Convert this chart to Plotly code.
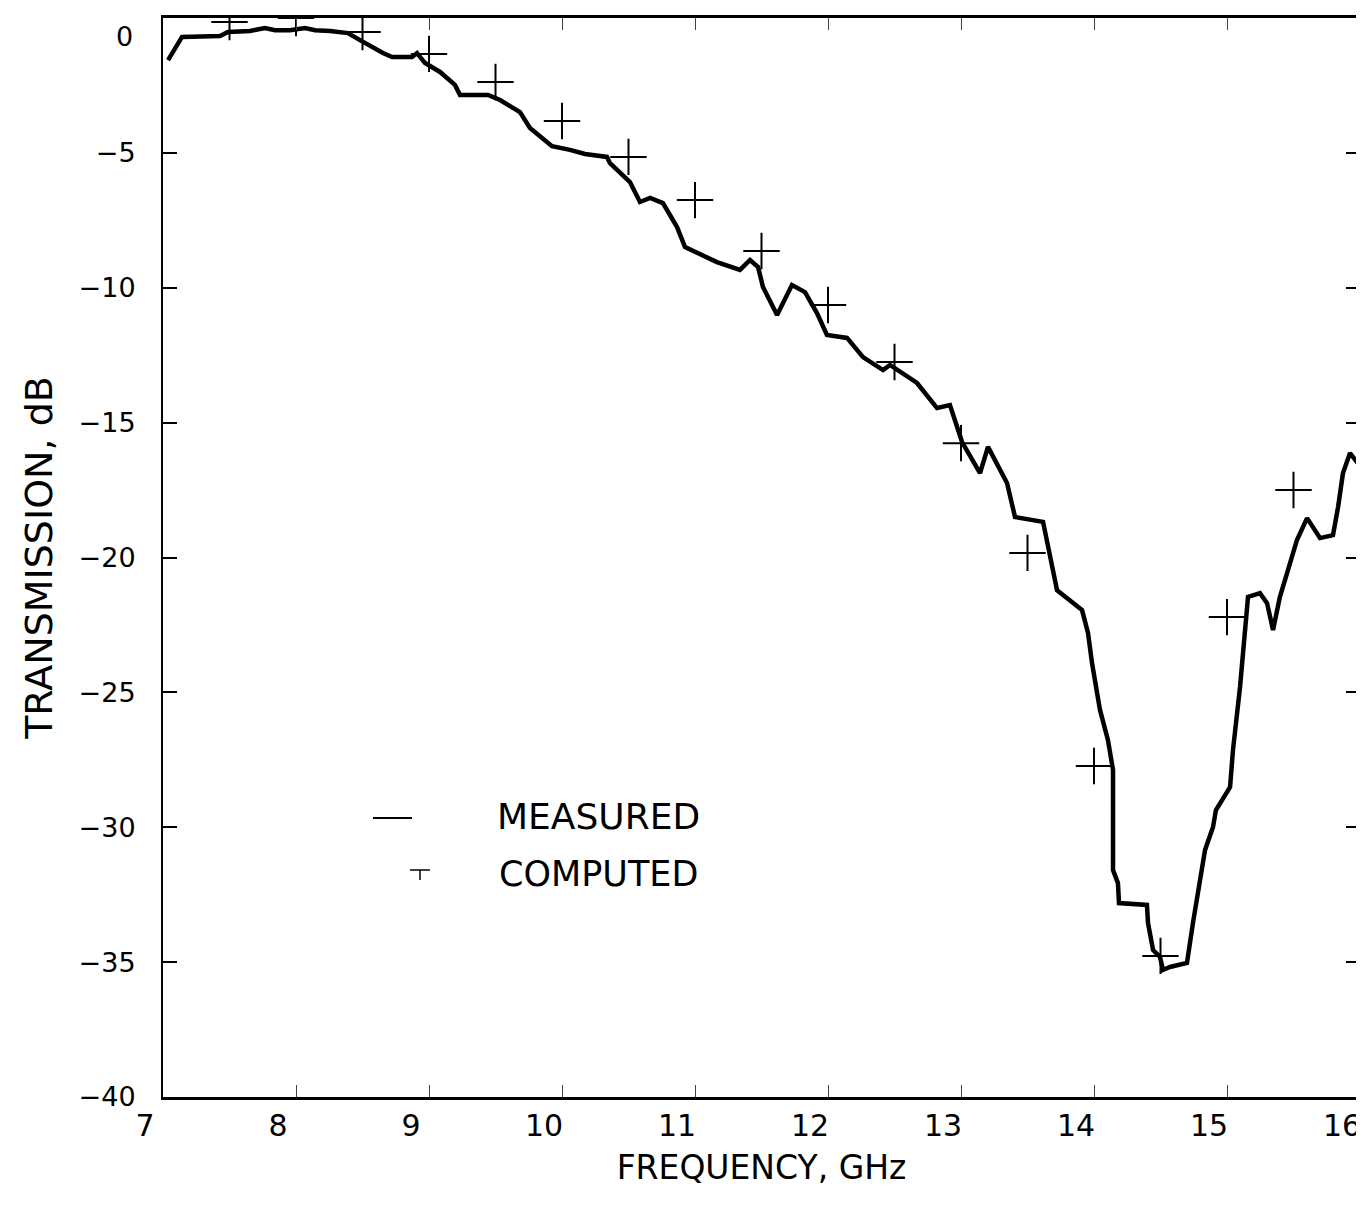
import plotly.graph_objects as go

# Measured transmission (GHz, dB)
meas_freq = [7.038, 7.143, 7.429, 7.489, 7.654, 7.767, 7.842, 7.955, 8.068, 8.143,
             8.256, 8.391, 8.481, 8.571, 8.654, 8.722, 8.872, 8.910, 8.970, 9.083,
             9.195, 9.233, 9.444, 9.534, 9.624, 9.684, 9.759, 9.872, 9.925, 10.060,
             10.173, 10.338, 10.361, 10.511, 10.586, 10.662, 10.759, 10.865, 10.925, 11.165,
             11.338, 11.414, 11.474, 11.511, 11.617, 11.729, 11.827, 11.917, 11.992, 12.143,
             12.263, 12.414, 12.466, 12.669, 12.820, 12.917, 12.970, 13.008, 13.143, 13.203,
             13.346, 13.406, 13.617, 13.654, 13.722, 13.910, 13.955, 13.985, 14.045, 14.105,
             14.143, 14.143, 14.180, 14.188, 14.398, 14.406, 14.444, 14.496, 14.519, 14.571,
             14.699, 14.744, 14.797, 14.835, 14.895, 14.917, 15.023, 15.045, 15.098, 15.135,
             15.158, 15.248, 15.301, 15.346, 15.398, 15.459, 15.526, 15.602, 15.699, 15.797,
             15.835, 15.872, 15.925, 16.000]
meas_db = [-1.56, -0.70, -0.67, -0.52, -0.48, -0.37, -0.45, -0.45, -0.37, -0.45,
           -0.48, -0.56, -0.82, -1.08, -1.30, -1.45, -1.45, -1.30, -1.67, -2.00,
           -2.48, -2.85, -2.85, -3.04, -3.30, -3.49, -4.08, -4.52, -4.75, -4.89,
           -5.04, -5.15, -5.38, -6.08, -6.82, -6.67, -6.86, -7.75, -8.49, -9.05,
           -9.34, -8.97, -9.23, -9.97, -11.01, -9.90, -10.16, -10.94, -11.75, -11.86,
           -12.57, -13.05, -12.86, -13.53, -14.46, -14.35, -15.16, -15.72, -16.87, -15.90,
           -17.24, -18.50, -18.68, -19.61, -21.21, -21.95, -22.80, -23.91, -25.65, -26.77,
           -27.88, -31.59, -32.07, -32.81, -32.88, -33.55, -34.55, -34.81, -35.29, -35.18,
           -35.03, -33.55, -32.07, -30.84, -29.99, -29.36, -28.51, -27.14, -24.80, -22.58,
           -21.46, -21.32, -21.69, -22.69, -21.46, -20.46, -19.35, -18.54, -19.28, -19.17,
           -18.13, -16.87, -16.13, -16.61]

# Computed transmission (GHz, dB)
comp_freq = [7.5, 8.0, 8.5, 9.0, 9.5, 10.0, 10.5, 11.0, 11.5, 12.0,
             12.5, 13.0, 13.5, 14.0, 14.5, 15.0, 15.5]
comp_db = [-0.15, 0.0, -0.52, -1.33, -2.37, -3.82, -5.15, -6.75, -8.64, -10.64,
           -12.75, -15.76, -19.83, -27.73, -34.77, -22.21, -17.50]

x_ticks = [7, 8, 9, 10, 11, 12, 13, 14, 15, 16]
y_ticks = [0, -5, -10, -15, -20, -25, -30, -35, -40]
y_tick_text = ["", "\u22125", "\u221210", "\u221215", "\u221220", "\u221225", "\u221230", "\u221235", "\u221240"]
top_label = "0"

FONT = "DejaVu Sans, Arial, sans-serif"

fig = go.Figure()
fig.add_trace(go.Scatter(
    x=meas_freq, y=meas_db, mode="lines", name="MEASURED",
    line=dict(color="black", width=4.5), showlegend=False,
))
fig.add_trace(go.Scatter(
    x=comp_freq, y=comp_db, mode="markers", name="COMPUTED",
    marker=dict(symbol="cross-thin", size=26, color="black",
                line=dict(color="black", width=2)),
    showlegend=False,
))

fig.update_layout(
    width=1352, height=1190,
    margin=dict(l=155, r=0, t=10, b=101),
    paper_bgcolor="white", plot_bgcolor="white",
    font=dict(family=FONT, color="black", size=27),
    xaxis=dict(
        range=[7, 16], tickvals=x_ticks, showgrid=False, zeroline=False,
        showline=True, linecolor="black", linewidth=3, mirror="allticks",
        ticks="inside", ticklen=12, tickwidth=1, tickcolor="#444",
        tickfont=dict(size=30, family=FONT), ticklabelshift=-18, ticklabelstandoff=0,
        ticklabeloverflow="allow", automargin=False,
        title=dict(text="FREQUENCY, GHz", font=dict(size=33, family=FONT), standoff=14),
    ),
    yaxis=dict(
        range=[-40, 0], tickvals=y_ticks, ticktext=y_tick_text,
        showgrid=False, zeroline=False,
        showline=True, linecolor="black", linewidth=2, mirror="allticks",
        ticks="inside", ticklen=14, tickwidth=2, tickcolor="black",
        tickfont=dict(size=27, family=FONT), ticklabelstandoff=20,
        ticklabeloverflow="allow", automargin=False,
        title=dict(text="TRANSMISSION, dB", font=dict(size=38, family=FONT), standoff=14),
    ),
)

# Top y-axis label placed just below the frame edge so it is not clipped
fig.add_annotation(xref="paper", yref="y", x=-0.0234, y=0, yshift=-1,
                   text=top_label, showarrow=False, xanchor="right", yanchor="top",
                   font=dict(size=27, family=FONT, color="black"))

# Legend drawn manually (paper coordinates)
fig.add_shape(type="line", xref="paper", yref="paper",
              x0=0.1754, x1=0.2080, y0=0.2586, y1=0.2586,
              line=dict(color="black", width=2))
fig.add_shape(type="line", xref="paper", yref="paper",
              x0=0.2063, x1=0.2230, y0=0.2104, y1=0.2104,
              line=dict(color="black", width=1.5))
fig.add_shape(type="line", xref="paper", yref="paper",
              x0=0.2147, x1=0.2147, y0=0.2104, y1=0.2011,
              line=dict(color="black", width=1.5))
fig.add_annotation(xref="paper", yref="paper", x=0.2774, y=0.2595,
                   text="MEASURED", showarrow=False, xanchor="left", yanchor="middle",
                   font=dict(size=36, family=FONT, color="black"))
fig.add_annotation(xref="paper", yref="paper", x=0.2790, y=0.2067,
                   text="COMPUTED", showarrow=False, xanchor="left", yanchor="middle",
                   font=dict(size=35, family=FONT, color="black"))

fig.write_html("out.html")
